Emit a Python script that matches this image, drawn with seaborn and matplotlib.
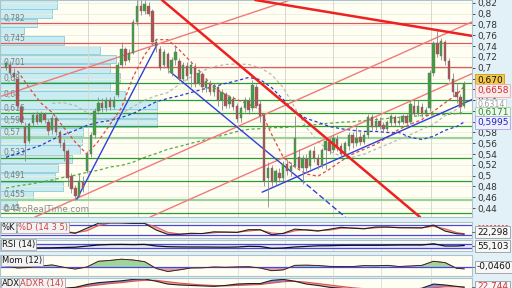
import matplotlib
matplotlib.use("Agg")
import matplotlib.pyplot as plt
import matplotlib.transforms as mtransforms
from matplotlib.lines import Line2D
import seaborn as sns
import numpy as np

# ---------------- price candles (one per period) ----------------
opens = [0.700, 0.705, 0.690, 0.680, 0.628, 0.590, 0.565, 0.598, 0.612, 0.600,
         0.614, 0.600, 0.585, 0.606, 0.580, 0.560, 0.545, 0.500, 0.478, 0.463,
         0.488, 0.508, 0.540, 0.575, 0.620, 0.635, 0.625, 0.640, 0.628, 0.650,
         0.705, 0.735, 0.715, 0.728, 0.785, 0.815, 0.805, 0.815, 0.805, 0.748,
         0.735, 0.705, 0.725, 0.690, 0.715, 0.712, 0.680, 0.703, 0.688, 0.700,
         0.672, 0.688, 0.662, 0.670, 0.655, 0.665, 0.640, 0.652, 0.632, 0.642,
         0.630, 0.607, 0.625, 0.638, 0.625, 0.665, 0.632, 0.612, 0.495, 0.515,
         0.488, 0.505, 0.495, 0.522, 0.508, 0.518, 0.535, 0.515, 0.530, 0.518,
         0.545, 0.532, 0.520, 0.548, 0.562, 0.548, 0.568, 0.555, 0.540, 0.555,
         0.575, 0.560, 0.572, 0.563, 0.575, 0.608, 0.590, 0.602, 0.594, 0.586,
         0.598, 0.608, 0.598, 0.600, 0.610, 0.600, 0.630, 0.615, 0.628, 0.615,
         0.625, 0.690, 0.745, 0.722, 0.748, 0.712, 0.680, 0.655, 0.645, 0.630]
highs = [0.712, 0.712, 0.700, 0.685, 0.632, 0.600, 0.600, 0.618, 0.620, 0.620,
         0.618, 0.605, 0.613, 0.610, 0.585, 0.568, 0.550, 0.505, 0.482, 0.505,
         0.500, 0.545, 0.580, 0.625, 0.645, 0.643, 0.646, 0.645, 0.648, 0.710,
         0.748, 0.738, 0.735, 0.790, 0.826, 0.826, 0.826, 0.822, 0.808, 0.755,
         0.740, 0.735, 0.730, 0.720, 0.742, 0.718, 0.710, 0.710, 0.712, 0.708,
         0.698, 0.692, 0.680, 0.678, 0.672, 0.668, 0.660, 0.655, 0.650, 0.648,
         0.635, 0.630, 0.645, 0.645, 0.678, 0.670, 0.640, 0.615, 0.525, 0.520,
         0.512, 0.515, 0.528, 0.530, 0.525, 0.610, 0.550, 0.538, 0.540, 0.550,
         0.555, 0.540, 0.552, 0.570, 0.570, 0.575, 0.575, 0.560, 0.565, 0.580,
         0.580, 0.590, 0.580, 0.580, 0.615, 0.615, 0.608, 0.608, 0.600, 0.604,
         0.615, 0.612, 0.608, 0.615, 0.615, 0.638, 0.640, 0.640, 0.635, 0.628,
         0.695, 0.750, 0.770, 0.755, 0.752, 0.718, 0.690, 0.672, 0.652, 0.675]
lows = [0.695, 0.686, 0.676, 0.625, 0.595, 0.528, 0.560, 0.592, 0.596, 0.597,
        0.598, 0.576, 0.578, 0.575, 0.553, 0.528, 0.480, 0.468, 0.455, 0.460,
        0.470, 0.505, 0.535, 0.570, 0.615, 0.618, 0.620, 0.622, 0.624, 0.645,
        0.700, 0.705, 0.710, 0.725, 0.780, 0.798, 0.800, 0.795, 0.742, 0.730,
        0.695, 0.700, 0.690, 0.685, 0.705, 0.675, 0.675, 0.678, 0.665, 0.665,
        0.668, 0.655, 0.655, 0.650, 0.648, 0.630, 0.622, 0.625, 0.625, 0.622,
        0.600, 0.600, 0.618, 0.615, 0.620, 0.625, 0.600, 0.480, 0.442, 0.480,
        0.482, 0.488, 0.490, 0.502, 0.500, 0.515, 0.510, 0.485, 0.505, 0.512,
        0.525, 0.512, 0.515, 0.512, 0.540, 0.543, 0.546, 0.535, 0.536, 0.548,
        0.552, 0.555, 0.556, 0.558, 0.570, 0.585, 0.585, 0.587, 0.580, 0.582,
        0.592, 0.592, 0.593, 0.596, 0.592, 0.596, 0.610, 0.610, 0.608, 0.610,
        0.620, 0.685, 0.720, 0.715, 0.705, 0.675, 0.648, 0.635, 0.615, 0.625]
closes = [0.708, 0.690, 0.682, 0.630, 0.600, 0.560, 0.595, 0.612, 0.600, 0.614,
          0.603, 0.582, 0.606, 0.580, 0.560, 0.545, 0.495, 0.475, 0.462, 0.490,
          0.478, 0.540, 0.575, 0.620, 0.635, 0.625, 0.640, 0.628, 0.640, 0.705,
          0.735, 0.712, 0.728, 0.785, 0.815, 0.805, 0.818, 0.800, 0.748, 0.740,
          0.700, 0.730, 0.700, 0.715, 0.730, 0.680, 0.705, 0.685, 0.705, 0.670,
          0.690, 0.665, 0.675, 0.655, 0.668, 0.640, 0.655, 0.630, 0.645, 0.628,
          0.605, 0.625, 0.640, 0.622, 0.668, 0.630, 0.610, 0.490, 0.515, 0.488,
          0.508, 0.495, 0.522, 0.508, 0.518, 0.570, 0.515, 0.532, 0.515, 0.545,
          0.532, 0.520, 0.548, 0.565, 0.545, 0.570, 0.552, 0.540, 0.560, 0.575,
          0.560, 0.570, 0.562, 0.575, 0.608, 0.590, 0.602, 0.592, 0.586, 0.600,
          0.610, 0.598, 0.602, 0.610, 0.598, 0.632, 0.615, 0.630, 0.615, 0.622,
          0.690, 0.745, 0.725, 0.750, 0.712, 0.680, 0.655, 0.645, 0.628, 0.670]

# ---------------- indicator readings (sampled every third period) ----------------
ind_idx = [0, 3, 6, 9, 12, 15, 18, 21, 24, 27, 30, 33, 36, 39, 42, 45, 48, 51, 54, 57,
           60, 63, 66, 69, 72, 75, 78, 81, 84, 87, 90, 93, 96, 99, 102, 105, 108, 111,
           114, 117, 119]
nan = float("nan")
ma_red = [nan, 0.694, 0.663, 0.635, 0.617, 0.589, 0.562, 0.540, 0.564, 0.595,
          0.626, 0.683, 0.724, 0.752, 0.752, 0.733, 0.711, 0.687, 0.663, 0.650,
          0.641, 0.632, 0.623, 0.576, 0.534, 0.516, 0.503, 0.499, 0.512, 0.527,
          0.540, 0.549, 0.558, 0.571, 0.586, 0.595, 0.604, 0.619, 0.635, 0.650, 0.6658]
ma_gray = [nan, nan, nan, nan, 0.634, 0.635, 0.630, 0.617, 0.604, 0.604,
           0.615, 0.628, 0.640, 0.648, 0.654, 0.669, 0.683, 0.694, 0.702, 0.706,
           0.707, 0.706, 0.700, 0.687, 0.663, 0.626, 0.589, 0.564, 0.545, 0.536,
           0.534, 0.540, 0.549, 0.558, 0.567, 0.576, 0.586, 0.595, 0.611, 0.623, 0.6314]
ma_blue = [0.534, 0.541, 0.549, 0.556, 0.567, 0.576, 0.584, 0.593, 0.599, 0.602,
           0.608, 0.615, 0.626, 0.637, 0.643, 0.648, 0.654, 0.660, 0.665, 0.671,
           0.676, 0.682, 0.678, 0.663, 0.641, 0.619, 0.606, 0.599, 0.591, 0.587,
           0.584, 0.582, 0.582, 0.580, 0.580, 0.571, 0.567, 0.573, 0.584, 0.591, 0.5995]
ma_green = [0.477, 0.481, 0.484, 0.488, 0.492, 0.497, 0.501, 0.506, 0.510, 0.516,
            0.519, 0.525, 0.534, 0.541, 0.549, 0.554, 0.560, 0.565, 0.571, 0.576,
            0.582, 0.586, 0.587, 0.589, 0.589, 0.591, 0.593, 0.595, 0.597, 0.599,
            0.600, 0.602, 0.604, 0.606, 0.608, 0.610, 0.611, 0.613, 0.613, 0.615, 0.6171]
stoch_k = [55, 33, 45, 50, 40, 38, 28, 62, 95, 98, 97, 94, 94, 50, 21, 21, 28, 26, 38, 36,
           34, 52, 52, 18, 28, 56, 50, 43, 55, 68, 62, 58, 70, 70, 65, 65, 64, 83, 43, 25, 22.298]
stoch_d = [52, 40, 40, 48, 45, 40, 32, 45, 80, 96, 97, 95, 94, 70, 35, 24, 24, 27, 32, 36,
           35, 44, 50, 30, 25, 45, 52, 46, 50, 62, 64, 60, 65, 69, 67, 65, 65, 75, 58, 33, 25]
rsi = [45, 40, 30, 31, 32, 35, 38, 49, 60, 65, 66, 64, 66, 50, 43, 41, 40, 40, 39, 38,
       40, 47, 45, 27, 30, 40, 46, 52, 53, 56, 57, 57, 57, 58, 60, 60, 60, 72, 50, 50, 55.103]
mom = [0.024, -0.024, -0.012, 0.024, 0.05, -0.007, -0.05, 0.0, 0.14, 0.16,
       0.19, 0.17, 0.13, -0.036, -0.11, -0.07, -0.024, -0.02, 0.0, -0.007,
       0.002, 0.007, -0.024, -0.09, -0.07, 0.04, 0.045, 0.036, 0.015, 0.012,
       0.01, 0.034, 0.03, 0.04, 0.012, 0.024, 0.04, 0.14, 0.107, -0.032, -0.046]
adx = [15, 14, 14, 15, 17, 20, 22, 28, 32, 34, 36, 39, 40, 35, 29, 27, 26, 25, 24, 26,
       29, 30, 30, 37, 39, 35, 29, 26, 22, 20, 17, 15, 14, 14, 15, 17, 20, 29, 27, 24, 22]
adxr = [14, 14, 15, 16, 17, 19, 21, 24, 27, 30, 32, 35, 37, 37, 34, 31, 29, 27, 26, 25,
        26, 27, 28, 31, 34, 35, 33, 30, 27, 24, 21, 19, 17, 16, 15, 16, 17, 21, 23, 23, 22.744]

# ---------------- volume-at-price profile ----------------
vp_price = [0.817, 0.800, 0.783, 0.767, 0.750, 0.733, 0.716, 0.699, 0.682, 0.665,
            0.649, 0.632, 0.615, 0.598, 0.581, 0.564, 0.548, 0.531, 0.514, 0.497,
            0.480, 0.463, 0.447]
vp_volume = [57, 52, 37, 24, 64, 100, 116, 110, 120, 110, 125, 157, 157, 157, 83, 82,
             80, 72, 58, 55, 63, 33, 17]

# ---------------- horizontal levels ----------------
red_levels = [0.782, 0.745, 0.701]
green_levels = [0.671, 0.641, 0.616, 0.592, 0.533, 0.491, 0.43]
light_green_levels = [0.570, 0.455]
level_values = [0.782, 0.745, 0.701, 0.671, 0.641, 0.616, 0.592, 0.570, 0.533, 0.491, 0.455, 0.43]
level_labels = ["0,782", "0,745", "0,701", "0,68", "0,64", "0,616", "0,592", "0,57",
                "0,533", "0,491", "0,455", "0,43"]

# ---------------- drawn trend lines (period, price) ----------------
thick_red_lines = [((40.5, 0.8255), (107.5, 0.4233)), ((64.7, 0.8255), (121.0, 0.759))]
thin_red_lines = [((7.5, 0.4233), (121.0, 0.785)), ((37.4, 0.4233), (121.0, 0.689)),
                  ((-1.56, 0.6465), (73.8, 0.8255))]
blue_lines = [((18.4, 0.4565), (39.2, 0.7425)), ((42.6, 0.6927), (76.4, 0.4935)),
              ((66.5, 0.4694), (121.0, 0.641))]
blue_dashed_lines = [((76.4, 0.4935), (88.1, 0.4233))]

price_ticks = [0.44, 0.46, 0.48, 0.50, 0.52, 0.54, 0.56, 0.58, 0.60, 0.62, 0.64, 0.66,
               0.68, 0.70, 0.72, 0.74, 0.76, 0.78, 0.80, 0.82]
covered_ticks = [0.60, 0.62, 0.66, 0.68]   # hidden behind last-value boxes
period_marks = [21.3, 34.3, 47.3, 60.3, 72.5, 85.0, 97.4, 110.4]

last_labels = [("0,6314", "#a0a0a0", "#ffffff", "#d0d0d0", 5.8),
               ("0,670", "#111111", "#f5c84c", "#c99a20", 6.5),
               ("0,6658", "#d03030", "#fbeaea", "#e4b0b0", 6.5),
               ("0,6171", "#2e8b2e", "#eef8ee", "#a0d0a0", 6.5),
               ("0,5995", "#2020c0", "#eeeeff", "#a8a8e0", 6.5)]
last_label_y = [105, 80, 90.5, 113, 122.5]

# ======================================================================
sns.set_theme(style="white")
plt.rcParams["font.family"] = ["DejaVu Sans"]

W, H = 512, 288
fig = plt.figure(figsize=(5.12, 2.88), dpi=100, facecolor="#e2f1f7")


def rect(x0, y0, x1, y1):
    return [x0 / W, 1 - y1 / H, (x1 - x0) / W, (y1 - y0) / H]


XL = (-1.56, 121.0)
YL = (0.4234, 0.8255)
BG = "#fffef3"
SP = "#a9c3cf"

# volume profile (behind everything)
ax_vp = fig.add_axes(rect(0, 0, 472, 217))
ax_vp.set_facecolor(BG)
ax_vp.barh(vp_price, vp_volume, height=0.0158, left=0, color="#c8ecf1",
           edgecolor="#8ccbd6", linewidth=0.6)
ax_vp.set_xlim(0, 472)
ax_vp.set_ylim(*YL)
ax_vp.set_xticks([])
ax_vp.set_yticks([])
for s in ax_vp.spines.values():
    s.set_visible(False)

# main price axes
ax = fig.add_axes(rect(0, 0, 472, 217))
ax.set_facecolor("none")
ax.set_xlim(*XL)
ax.set_ylim(*YL)
for p in price_ticks:
    ax.axhline(p, color="#efeddc", lw=0.6, zorder=0)
for m in period_marks:
    ax.axvline(m, color="#d8d8d0", lw=0.7, zorder=0)

for lv in red_levels:
    ax.axhline(lv, color="#e05a5a", lw=0.9, zorder=1)
for lv in green_levels:
    ax.axhline(lv, color="#2f9a2f", lw=0.9, zorder=1)
for lv in light_green_levels:
    ax.axhline(lv, color="#9bd29b", lw=1.6, zorder=1)

tr = mtransforms.blended_transform_factory(ax.transAxes, ax.transData)
for v, lab in zip(level_values, level_labels):
    ax.text(0.008, v + 0.001, lab, transform=tr, fontsize=5.5, color="#7c7c7c",
            va="bottom", ha="left", zorder=2)

# moving averages
ma_style = dict(lw=0.9, linestyle=(0, (2.5, 2)), zorder=2, legend=False)
sns.lineplot(x=ind_idx, y=ma_green, ax=ax, color="#5aa83c", **ma_style)
sns.lineplot(x=ind_idx, y=ma_gray, ax=ax, color="#b8b8b8", **ma_style)
sns.lineplot(x=ind_idx, y=ma_blue, ax=ax, color="#2c3ad0", **ma_style)
sns.lineplot(x=ind_idx, y=ma_red, ax=ax, color="#e04848", **ma_style)

# trend lines
for (a, b) in thin_red_lines:
    ax.plot([a[0], b[0]], [a[1], b[1]], color="#f07a7a", lw=1.0, zorder=2)
for (a, b) in blue_lines:
    ax.plot([a[0], b[0]], [a[1], b[1]], color="#3040d8", lw=1.0, zorder=2)
for (a, b) in blue_dashed_lines:
    ax.plot([a[0], b[0]], [a[1], b[1]], color="#3040d8", lw=1.0, zorder=2,
            linestyle=(0, (4, 2)))
for (a, b) in thick_red_lines:
    ax.plot([a[0], b[0]], [a[1], b[1]], color="#ee2020", lw=1.8, zorder=5)

# candles
xi = np.arange(len(closes))
o = np.array(opens)
c = np.array(closes)
ax.vlines(xi, lows, highs, color="#8a8a8a", lw=0.6, zorder=3)
cols = ["#3f9f3f" if cc >= oo else "#b05050" for oo, cc in zip(o, c)]
body = np.where(np.abs(c - o) < 0.002, 0.002, c - o)
ax.bar(xi, body, bottom=o, width=0.62, color=cols, edgecolor="#707070",
       linewidth=0.3, zorder=4)

ax.text(0.004, 0.012, "© ProRealTime.com", transform=ax.transAxes, fontsize=6.3,
        color="#8e8e8e", va="bottom", ha="left", zorder=6)

# right axis
ax.yaxis.tick_right()
ax.set_yticks(price_ticks)
ax.set_yticklabels(["" if any(abs(p - q) < 1e-9 for q in covered_ticks)
                    else ("%.2f" % p).rstrip("0").replace(".", ",") for p in price_ticks])
ax.tick_params(axis="y", labelsize=6.5, length=2, pad=2, colors="#333333", width=0.6)
ax.set_xticks([])
for s in ax.spines.values():
    s.set_color(SP)
    s.set_linewidth(0.8)

for (txt, fc, bg, ec, fs), yy in zip(last_labels, last_label_y):
    fig.text(477 / W, 1 - yy / H, txt, fontsize=fs, color=fc, va="center", ha="left",
             bbox=dict(boxstyle="square,pad=0.18", fc=bg, ec=ec, lw=0.6), zorder=10)


# ---------------- sub panels ----------------
def sub_axes(y0, y1, ylim):
    a = fig.add_axes(rect(0, y0, 472, y1))
    a.set_facecolor(BG)
    a.set_xlim(*XL)
    a.set_ylim(*ylim)
    a.set_xticks([])
    a.set_yticks([])
    for s in a.spines.values():
        s.set_color(SP)
        s.set_linewidth(0.8)
    for m in period_marks:
        a.axvline(m, color="#e2e2da", lw=0.7, zorder=0)
    return a


def tag(a, parts, y=0.96):
    for t, col, xpx in parts:
        a.text(xpx / 472, y, t, transform=a.transAxes, fontsize=6, color=col, va="top",
               ha="left", zorder=8,
               bbox=dict(boxstyle="square,pad=0.12", fc="#f3f3f3", ec="#9a9a9a", lw=0.5))


def right_value(yy, txt, col="#111111"):
    fig.text(477 / W, 1 - yy / H, txt, fontsize=6.5, color=col, va="center", ha="left",
             bbox=dict(boxstyle="square,pad=0.18", fc="#f7f7f7", ec="#9a9a9a", lw=0.6))
    fig.add_artist(Line2D([472 / W, 476 / W], [1 - yy / H, 1 - yy / H], color="#555555",
                          lw=0.6))


# Stochastic
a1 = sub_axes(222, 238, (-3.3, 103.3))
a1.axhline(80, color="#4848e0", lw=0.9)
a1.axhline(20, color="#4848e0", lw=0.9)
a1.fill_between(ind_idx, stoch_k, stoch_d, color="#f2a8a8", alpha=0.8, lw=0)
sns.lineplot(x=ind_idx, y=stoch_d, ax=a1, color="#e06060", lw=0.8, legend=False)
sns.lineplot(x=ind_idx, y=stoch_k, ax=a1, color="#202020", lw=0.8, legend=False)
tag(a1, [("%K", "#111111", 1.5), ("%D (14 3 5)", "#d04040", 18)])
right_value(232, "22,298")
fig.add_artist(Line2D([478 / W, 508 / W], [1 - 224.5 / H, 1 - 224.5 / H], color="#e05050",
                      lw=0.7, linestyle=(0, (2, 2))))

# RSI
a2 = sub_axes(240, 251, (0, 110))
a2.axhspan(30, 70, color="#e8e8f8", zorder=0)
a2.axhline(70, color="#4848e0", lw=0.9)
a2.axhline(30, color="#4848e0", lw=0.9)
sns.lineplot(x=ind_idx, y=rsi, ax=a2, color="#101010", lw=0.9, legend=False)
tag(a2, [("RSI (14)", "#111111", 1.5)])
right_value(246, "55,103")

# Momentum
a3 = sub_axes(255, 276, (-0.219, 0.292))
mom_arr = np.array(mom)
a3.fill_between(ind_idx, mom_arr, 0, where=mom_arr >= 0, interpolate=True,
                color="#9fd49a", lw=0)
a3.fill_between(ind_idx, mom_arr, 0, where=mom_arr <= 0, interpolate=True,
                color="#d8a6b0", lw=0)
a3.axhline(0, color="#4848e0", lw=0.9)
sns.lineplot(x=ind_idx, y=mom, ax=a3, color="#e07070", lw=0.7, legend=False)
sns.lineplot(x=ind_idx, y=mom, ax=a3, color="#202020", lw=0.6, legend=False)
tag(a3, [("Mom (12)", "#111111", 1.5)])
right_value(267, "-0,0460")

# ADX
a4 = sub_axes(278, 298, (-1, 42))
adx_arr = np.array(adx, dtype=float)
adxr_arr = np.array(adxr, dtype=float)
a4.fill_between(ind_idx, adx_arr, adxr_arr, where=adx_arr >= adxr_arr, interpolate=True,
                color="#8f8fd0", lw=0)
a4.fill_between(ind_idx, adx_arr, adxr_arr, where=adx_arr <= adxr_arr, interpolate=True,
                color="#f2a8a8", lw=0)
sns.lineplot(x=ind_idx, y=adxr, ax=a4, color="#e05050", lw=0.8, legend=False)
sns.lineplot(x=ind_idx, y=adx, ax=a4, color="#202020", lw=0.8, legend=False)
tag(a4, [("ADX", "#111111", 1.5), ("ADXR (14)", "#d04040", 20)], y=0.93)
right_value(287, "22,744", col="#d03030")

fig.savefig("out.png", dpi=100, facecolor=fig.get_facecolor())
